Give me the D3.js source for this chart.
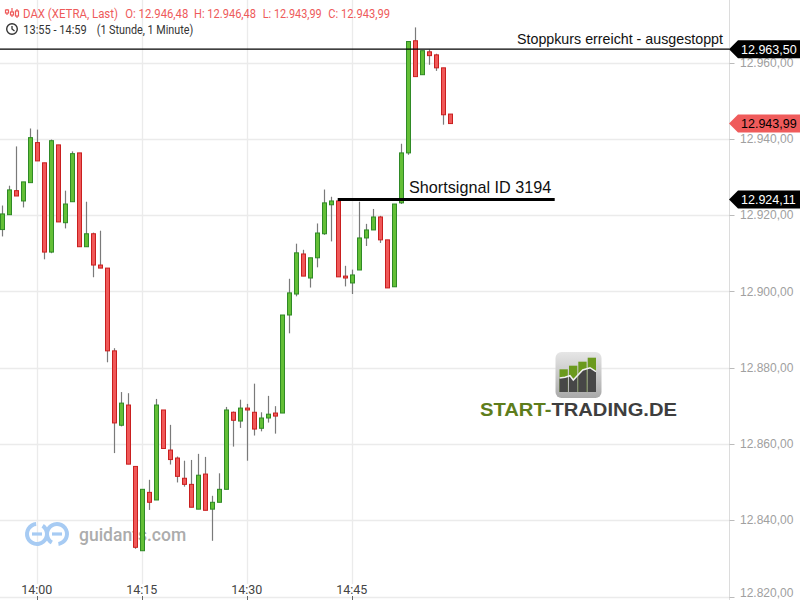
<!DOCTYPE html>
<html><head><meta charset="utf-8">
<script src="https://cdnjs.cloudflare.com/ajax/libs/d3/7.8.5/d3.min.js"></script>
<style>
html,body{margin:0;padding:0;background:#fff;overflow:hidden}
svg{display:block}
</style></head>
<body>
<svg id="chart" width="800" height="600"></svg>
<script>
// ---------- DATA ----------
const times = ["13:55","13:56","13:57","13:58","13:59","14:00","14:01","14:02","14:03","14:04",
"14:05","14:06","14:07","14:08","14:09","14:10","14:11","14:12","14:13","14:14",
"14:15","14:16","14:17","14:18","14:19","14:20","14:21","14:22","14:23","14:24",
"14:25","14:26","14:27","14:28","14:29","14:30","14:31","14:32","14:33","14:34",
"14:35","14:36","14:37","14:38","14:39","14:40","14:41","14:42","14:43","14:44",
"14:45","14:46","14:47","14:48","14:49","14:50","14:51","14:52","14:53","14:54",
"14:55","14:56","14:57","14:58","14:59"];
const openV = [12916.2,12920.1,12926.4,12923.7,12928.5,12939.0,12933.7,12910.3,12938.4,12918.0,
12923.5,12936.3,12911.7,12915.1,12906.9,12906.1,12884.4,12864.9,12870.2,12854.1,
12832.0,12847.3,12845.3,12868.9,12858.4,12856.3,12851.0,12849.4,12842.9,12852.1,
12842.9,12844.7,12848.1,12868.3,12866.0,12869.4,12868.3,12864.1,12866.8,12868.1,
12868.1,12893.8,12899.3,12909.8,12903.5,12908.8,12915.1,12922.7,12923.7,12904.0,
12902.2,12905.6,12914.0,12916.1,12919.5,12913.5,12901.2,12923.2,12936.3,12965.7,
12956.8,12962.8,12962.0,12958.6,12946.48];
const highV = [12922.5,12927.7,12938.0,12928.7,12942.7,12942.4,12933.7,12939.8,12938.4,12926.4,
12936.7,12936.3,12923.5,12915.4,12915.9,12906.1,12885.1,12873.6,12873.3,12854.1,
12848.1,12850.6,12871.8,12868.9,12865.0,12856.7,12855.6,12855.8,12857.4,12856.6,
12846.4,12852.3,12869.7,12868.5,12871.6,12870.5,12875.8,12868.3,12872.6,12869.9,
12893.8,12903.3,12912.5,12910.9,12908.8,12917.8,12926.7,12924.8,12923.7,12906.7,
12905.7,12923.5,12917.7,12921.6,12919.8,12913.5,12922.9,12938.7,12965.5,12969.2,
12963.1,12963.4,12962.3,12958.6,12946.48];
const lowV = [12914.4,12920.1,12925.0,12922.0,12928.5,12934.2,12908.4,12910.0,12918.2,12916.5,
12923.5,12911.7,12911.7,12903.7,12906.1,12881.4,12857.6,12864.6,12854.7,12832.5,
12832.0,12842.7,12845.3,12858.8,12854.6,12849.9,12848.8,12843.4,12842.9,12842.6,
12834.6,12844.7,12848.1,12859.3,12864.2,12855.6,12862.2,12863.3,12865.6,12862.7,
12868.1,12889.0,12898.7,12904.0,12901.0,12906.3,12914.8,12913.1,12903.8,12901.3,
12899.3,12905.6,12911.9,12916.1,12912.7,12900.9,12901.2,12922.9,12935.8,12956.3,
12956.8,12959.4,12957.8,12943.7,12943.99];
const closeV = [12920.3,12926.6,12925.0,12928.7,12940.3,12934.2,12910.3,12939.5,12918.2,12922.9,
12936.1,12911.7,12915.1,12906.9,12906.1,12884.4,12865.5,12870.7,12854.7,12832.9,
12848.1,12844.7,12870.2,12858.8,12855.9,12851.5,12849.4,12843.4,12851.8,12842.6,
12844.7,12848.1,12868.9,12866.2,12869.4,12868.9,12863.9,12866.8,12867.8,12867.3,
12893.8,12899.6,12910.1,12904.0,12908.8,12915.3,12923.2,12923.7,12903.8,12903.5,
12904.3,12914.0,12916.1,12919.5,12913.5,12900.9,12922.9,12936.3,12965.5,12956.3,
12963.1,12961.8,12958.6,12946.3,12943.99];

const yTicks = [12820,12840,12860,12880,12900,12920,12940,12960];
const xTickLabels = ["14:00","14:15","14:30","14:45"];

const stopLevel = 12963.50;
const stopText = "Stoppkurs erreicht - ausgestoppt";
const shortLevel = 12924.11;
const shortText = "Shortsignal ID 3194";
const shortStart = "14:43";
const shortEnd = "15:14";
const lastPrice = 12943.99;

const headerTitle = "DAX (XETRA, Last)";
const headerParts = [["O: ", 12946.48],["H: ", 12946.48],["L: ", 12943.99],["C: ", 12943.99]];
const headerRange = "13:55 - 14:59";
const headerInterval = "(1 Stunde, 1 Minute)";

// ---------- SETUP ----------
const W = 800, H = 600;
const svg = d3.select("#chart");
const de = d3.formatLocale({decimal:",", thousands:".", grouping:[3], currency:["","€"]});
const fmt = de.format(",.2f");
const parseT = d3.utcParse("%H:%M");

const axisX = 729.5;
const x = d3.scaleUtc().domain([parseT("13:55"), parseT("14:59")]).range([1.7, 449.7]);
const y = d3.scaleLinear().domain([12820, 12960]).range([596.5, 62.5]);

const data = times.map((t,i)=>({t:parseT(t), o:openV[i], h:highV[i], l:lowV[i], c:closeV[i]}));

// ---------- GRID ----------
const grid = svg.append("g");
grid.selectAll("line.h").data(yTicks).join("line")
  .attr("x1",0).attr("x2",axisX).attr("y1",d=>Math.round(y(d))+0.5).attr("y2",d=>Math.round(y(d))+0.5)
  .attr("stroke","#ebebeb").attr("stroke-width",1.3);
grid.selectAll("line.v").data(xTickLabels).join("line")
  .attr("x1",d=>Math.round(x(parseT(d)))+0.5).attr("x2",d=>Math.round(x(parseT(d)))+0.5)
  .attr("y1",0).attr("y2",584)
  .attr("stroke","#ebebeb").attr("stroke-width",1.3);

// right axis line
svg.append("line").attr("x1",axisX).attr("x2",axisX).attr("y1",0).attr("y2",H)
  .attr("stroke","#dcdcdc").attr("stroke-width",1);

// ---------- WATERMARKS ----------
const gd = svg.append("g");
[[37,534],[57,534]].forEach(([cx,cy],k)=>{
  gd.append("path")
    .attr("d", d3.arc()({innerRadius:8,outerRadius:12,startAngle: k? -2.6 : 0.6, endAngle: k? 3.0 : 6.2}))
    .attr("transform",`translate(${cx},${cy})`).attr("fill","#a7cbf3");
  gd.append("line").attr("x1",cx-5).attr("x2",cx+5).attr("y1",cy).attr("y2",cy)
    .attr("stroke","#a7cbf3").attr("stroke-width",3.2);
});
gd.append("text").attr("x",79).attr("y",541).text("guidants.com")
  .attr("font-family","Roboto, 'Liberation Sans', Arial, sans-serif").attr("font-size",17.5)
  .attr("font-weight",500).attr("fill","#acacac");

// START-TRADING logo
const st = svg.append("g");
const defs = svg.append("defs");
const lg = defs.append("linearGradient").attr("id","icoG").attr("x1",0).attr("y1",0).attr("x2",0).attr("y2",1);
lg.append("stop").attr("offset","0%").attr("stop-color","#e6e6e6");
lg.append("stop").attr("offset","100%").attr("stop-color","#a9a9a9");
st.append("rect").attr("x",555.5).attr("y",352).attr("width",46).attr("height",46).attr("rx",6)
  .attr("fill","url(#icoG)");
const barTops = [369.3,365.7,361.7,357.7];
const barXs = [559.5,569,578.3,587.7];
const cp = defs.append("clipPath").attr("id","zig");
cp.append("path").attr("d","M555,378 L565,377.3 L570,375.7 L573.3,380 L582.7,370 L590,367.7 L597,371.7 L602,371.7 L602,400 L555,400 Z");
barXs.forEach((bx,i)=>{
  st.append("rect").attr("x",bx).attr("y",barTops[i]).attr("width",8.3).attr("height",392-barTops[i]).attr("fill","#6b9a1e");
  st.append("rect").attr("x",bx).attr("y",barTops[i]).attr("width",8.3).attr("height",392-barTops[i]).attr("fill","#474747").attr("clip-path","url(#zig)");
});
st.append("path").attr("d","M559.5,378 L565,377.3 L570,375.7 L573.3,380 L582.7,370 L590,367.7 L596,371.7")
  .attr("fill","none").attr("stroke","#f2f2f2").attr("stroke-width",1.5);
const stt = st.append("text").attr("x",480).attr("y",416)
  .attr("font-family","'Liberation Sans', Arial, sans-serif").attr("font-weight","bold").attr("font-size",19)
  .attr("textLength",197).attr("lengthAdjust","spacingAndGlyphs");
stt.append("tspan").attr("fill","#5e7d1c").text("START-");
stt.append("tspan").attr("fill","#3e3e3e").text("TRADING.DE");

// ---------- CANDLES ----------
const bw = 4;
const cg = svg.append("g");
const cand = cg.selectAll("g.c").data(data).join("g");
cand.append("line")
  .attr("x1",d=>Math.round(x(d.t))+0.5).attr("x2",d=>Math.round(x(d.t))+0.5)
  .attr("y1",d=>y(d.h)).attr("y2",d=>y(d.l))
  .attr("stroke","#7a7a7a").attr("stroke-width",1.2);
cand.append("rect")
  .attr("x",d=>Math.round(x(d.t))-bw/2+0.5)
  .attr("y",d=>y(Math.max(d.o,d.c)))
  .attr("width",bw)
  .attr("height",d=>Math.max(1.5, Math.abs(y(d.o)-y(d.c))))
  .attr("fill",d=>d.c>=d.o ? "#63bf36" : "#f05858")
  .attr("stroke",d=>d.c>=d.o ? "#2f8a26" : "#c91f1f")
  .attr("stroke-width",1);

// ---------- ANNOTATION LINES ----------
const annFont = "'Liberation Sans', Arial, sans-serif";
svg.append("line").attr("x1",0).attr("x2",axisX).attr("y1",y(stopLevel)).attr("y2",y(stopLevel))
  .attr("stroke","#000").attr("stroke-width",1.2);
svg.append("text").attr("x",723).attr("y",44).attr("text-anchor","end").text(stopText)
  .attr("font-family",annFont).attr("font-size",14.4).attr("fill","#111")
  .attr("textLength",206).attr("lengthAdjust","spacingAndGlyphs");

svg.append("line").attr("x1",x(parseT(shortStart))).attr("x2",x(parseT(shortEnd)))
  .attr("y1",y(shortLevel)).attr("y2",y(shortLevel))
  .attr("stroke","#000").attr("stroke-width",3);
svg.append("text").attr("x",409).attr("y",193).text(shortText)
  .attr("font-family",annFont).attr("font-size",16.2).attr("fill","#111");

// ---------- Y AXIS LABELS ----------
const ya = svg.append("g");
ya.selectAll("line").data(yTicks).join("line")
  .attr("x1",axisX).attr("x2",axisX+5).attr("y1",d=>Math.round(y(d))+0.5).attr("y2",d=>Math.round(y(d))+0.5)
  .attr("stroke","#bbb");
ya.selectAll("text").data(yTicks).join("text")
  .attr("x",740).attr("y",d=>Math.min(y(d), 593)).attr("dy","0.35em").text(d=>fmt(d))
  .attr("font-family",annFont).attr("font-size",12).attr("fill","#a0a0a0");

function priceTag(v, bg, fg){
  const yy = y(v);
  const g = svg.append("g");
  g.append("path").attr("d",`M${axisX-0.5},${yy} L${axisX+8.5},${yy-9} L800,${yy-9} L800,${yy+9} L${axisX+8.5},${yy+9} Z`)
    .attr("fill",bg);
  g.append("text").attr("x",741).attr("y",yy).attr("dy","0.36em").text(fmt(v))
    .attr("font-family",annFont).attr("font-size",12.5).attr("fill",fg);
}
priceTag(stopLevel,"#000","#fff");
priceTag(lastPrice,"#ef5b5b","#000");
priceTag(shortLevel,"#000","#fff");

// ---------- X AXIS ----------
const xa = svg.append("g");
xa.selectAll("text").data(xTickLabels).join("text")
  .attr("x",d=>x(parseT(d))).attr("y",594).attr("text-anchor","middle").text(d=>d)
  .attr("font-family","Roboto, 'Liberation Sans', Arial, sans-serif").attr("font-size",12.5).attr("fill","#444");
xa.selectAll("line").data(xTickLabels).join("line")
  .attr("x1",d=>Math.round(x(parseT(d)))+0.5).attr("x2",d=>Math.round(x(parseT(d)))+0.5)
  .attr("y1",596).attr("y2",600).attr("stroke","#666");

// ---------- HEADER ----------
const hf = "Roboto, 'Liberation Sans', Arial, sans-serif";
const hd = svg.append("g");
const red = "#ee5a5a";
// candle icon
[[7,9,15,10,13],[12,8,17,12,15],[17,9,18,11,16]].forEach(([cx,a,b,c,e])=>{
  hd.append("line").attr("x1",cx).attr("x2",cx).attr("y1",a).attr("y2",b).attr("stroke",red).attr("stroke-width",1.2);
  hd.append("rect").attr("x",cx-1.5).attr("y",c).attr("width",3).attr("height",e-c).attr("fill","#fff").attr("stroke",red).attr("stroke-width",1.2);
});
function htext(str, xx, yy, w, col){
  hd.append("text").attr("x",xx).attr("y",yy).text(str)
    .attr("font-family",hf).attr("font-size",12).attr("fill",col)
    .attr("textLength",w).attr("lengthAdjust","spacingAndGlyphs");
}
htext(headerTitle, 23, 17.5, 95, red);
const hx = [125.3,194,262.7,328.3];
const hw = [63,62,59,61.7];
headerParts.forEach((p,i)=> htext(p[0]+fmt(p[1]), hx[i], 17.5, hw[i], red));
// clock icon
hd.append("circle").attr("cx",12).attr("cy",29).attr("r",5.3).attr("fill","none").attr("stroke","#333").attr("stroke-width",1.4);
hd.append("path").attr("d","M12,26 L12,29 L14.5,31").attr("fill","none").attr("stroke","#333").attr("stroke-width",1.3);
htext(headerRange, 23.3, 33.5, 63.4, "#333");
htext(headerInterval, 96.7, 33.5, 96.6, "#333");
</script>
</body></html>
